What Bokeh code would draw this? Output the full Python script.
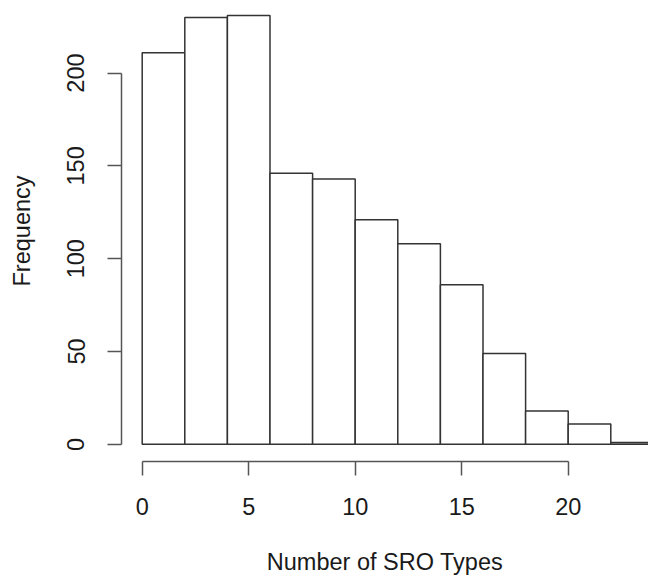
from bokeh.plotting import figure
from bokeh.models import Range1d, FixedTicker
from bokeh.embed import file_html
from bokeh.resources import INLINE

# Histogram data
bin_edges = [0, 2, 4, 6, 8, 10, 12, 14, 16, 18, 20, 22, 24]
counts = [211, 230, 231, 146, 143, 121, 108, 86, 49, 18, 11, 1]
x_ticks = [0, 5, 10, 15, 20]
y_ticks = [0, 50, 100, 150, 200]
x_label = "Number of SRO Types"
y_label = "Frequency"

FONT = "Liberation Sans"
FS = "23.5px"
TXT = "#1a1a1a"
AX = "#555555"

ymax = max(counts)
y_lo = -0.04 * ymax
y_hi = 239.1
x_lo = -0.972
x_hi = 23.77

p = figure(width=648, height=577, output_backend="svg", toolbar_location=None,
           x_range=Range1d(x_lo, x_hi), y_range=Range1d(y_lo, y_hi),
           min_border_left=121, min_border_right=0, min_border_top=0,
           min_border_bottom=116)
p.outline_line_color = None
p.grid.visible = False
p.background_fill_color = "white"
p.border_fill_color = "white"

p.quad(left=bin_edges[:-1], right=bin_edges[1:], bottom=0, top=counts,
       fill_color="white", line_color="#333333", line_width=1.5)

for ax, ticks, bnds in ((p.xaxis[0], x_ticks, (0, 20)), (p.yaxis[0], y_ticks, (0, 200))):
    ax.ticker = FixedTicker(ticks=ticks)
    ax.bounds = bnds
    ax.major_tick_in = 0
    ax.major_tick_out = 14
    ax.minor_tick_in = 0
    ax.minor_tick_out = 0
    ax.axis_line_color = AX
    ax.axis_line_width = 1.5
    ax.major_tick_line_color = AX
    ax.major_tick_line_width = 1.5
    ax.major_label_text_font = FONT
    ax.major_label_text_font_size = FS
    ax.major_label_text_color = TXT
    ax.axis_label_text_font = FONT
    ax.axis_label_text_font_size = FS
    ax.axis_label_text_font_style = "normal"
    ax.axis_label_text_color = TXT

p.xaxis[0].major_label_standoff = 22
p.xaxis[0].axis_label = x_label
p.xaxis[0].axis_label_standoff = 31

p.yaxis[0].major_label_standoff = 23
p.yaxis[0].major_label_orientation = "vertical"
p.yaxis[0].axis_label = y_label
p.yaxis[0].axis_label_standoff = 30

open("out.html", "w").write(file_html(p, INLINE))
